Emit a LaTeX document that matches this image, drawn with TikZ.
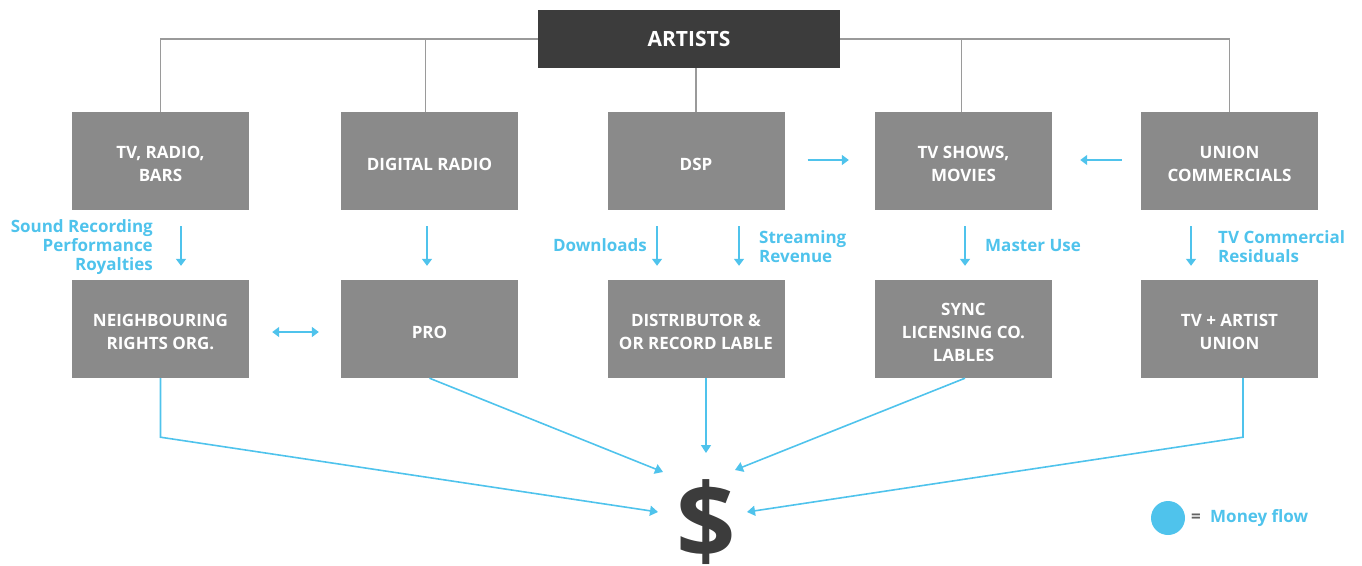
\documentclass[tikz,border=0pt]{standalone}
\usepackage{fontspec}
\setmainfont{Open Sans}[BoldFont={* Bold}]
\usetikzlibrary{arrows.meta}
\definecolor{boxgray}{HTML}{8A8A8A}
\definecolor{darkgray}{HTML}{3C3C3C}
\definecolor{flowblue}{HTML}{4FC3EC}
\definecolor{linegray}{HTML}{9A9A9A}
\tikzset{
  boxtext/.style={text=white, font=\bfseries\fontsize{17}{23}\selectfont, align=center, inner sep=0pt, yshift=-3pt},
  box/.style={rectangle, fill=boxgray, minimum width=177pt, minimum height=98pt, inner sep=0pt,
    label={[boxtext]center:{#1}}},
  topbox/.style={rectangle, fill=darkgray, minimum width=302pt, minimum height=58pt, inner sep=0pt,
    text=white, font=\bfseries\fontsize{21}{23}\selectfont},
  gline/.style={draw=linegray, line width=1.6pt},
  barrow/.style={draw=flowblue, line width=1.6pt, -{Triangle[width=10pt,length=7pt]}},
  bdarrow/.style={draw=flowblue, line width=1.6pt, {Triangle[width=10pt,length=7pt]}-{Triangle[width=10pt,length=7pt]}},
  flow/.style={draw=flowblue, line width=1.6pt, -{Triangle[width=10pt,length=8pt]}},
  blabel/.style={text=flowblue, font=\bfseries\fontsize{17}{19}\selectfont, inner sep=0pt},
}
\begin{document}
\begin{tikzpicture}[x=1pt, y=-1pt]
\useasboundingbox (0,0) rectangle (1362,565);
% top
\node[topbox] (artists) at (689,39) {ARTISTS};
% top row
\node[box={TV, RADIO,\\BARS}] (t1) at (160.5,161) {};
\node[box={DIGITAL RADIO}] (t2) at (429.5,161) {};
\node[box={DSP}] (t3) at (696,161) {};
\node[box={TV SHOWS,\\MOVIES}] (t4) at (963.5,161) {};
\node[box={UNION\\COMMERCIALS}] (t5) at (1229.5,161) {};
% bottom row
\node[box={NEIGHBOURING\\RIGHTS ORG.}] (b1) at (160.5,329) {};
\node[box={PRO}] (b2) at (429.5,329) {};
\node[box={DISTRIBUTOR \&\\OR RECORD LABLE}] (b3) at (696,329) {};
\node[box={SYNC\\LICENSING CO.\\LABLES}] (b4) at (963.5,329) {};
\node[box={TV + ARTIST\\UNION}] (b5) at (1229.5,329) {};
% tree lines
\draw[gline] (t1.north) |- (artists.west);
\draw[gline] ([xshift=-4pt]t2.north) |- (artists.west);
\draw[gline] (t3.north) -- (t3.north |- artists.south);
\draw[gline] ([xshift=-2pt]t4.north) |- (artists.east);
\draw[gline] (t5.north) |- (artists.east);
% vertical blue arrows
\draw[barrow, shorten <=16pt, shorten >=14pt] ([xshift=20.5pt]t1.south) -- ([xshift=20.5pt]b1.north);
\draw[barrow, shorten <=16pt, shorten >=14pt] ([xshift=-2.5pt]t2.south) -- ([xshift=-2.5pt]b2.north);
\draw[barrow, shorten <=16pt, shorten >=14pt] ([xshift=-39pt]t3.south) -- ([xshift=-39pt]b3.north);
\draw[barrow, shorten <=16pt, shorten >=14pt] ([xshift=43pt]t3.south) -- ([xshift=43pt]b3.north);
\draw[barrow, shorten <=16pt, shorten >=14pt] ([xshift=1.5pt]t4.south) -- ([xshift=1.5pt]b4.north);
\draw[barrow, shorten <=16pt, shorten >=14pt] ([xshift=-38.5pt]t5.south) -- ([xshift=-38.5pt]b5.north);
% horizontal blue arrows
\draw[barrow, shorten <=23pt, shorten >=26pt] ([yshift=1pt]t3.east) -- ([yshift=1pt]t4.west);
\draw[barrow, shorten <=19pt, shorten >=28pt] ([yshift=1pt]t5.west) -- ([yshift=1pt]t4.east);
\draw[bdarrow, shorten <=23pt, shorten >=22pt] ([yshift=-3pt]b1.east) -- ([yshift=-3pt]b2.west);
% labels
\node[blabel, anchor=east, align=right] (l1) at (153,247) {Sound Recording\\Performance\\Royalties};
\node[blabel, anchor=east] (l2) at (647,245) {Downloads};
\node[blabel, anchor=west, align=left] (l3) at (759,247) {Streaming\\Revenue};
\node[blabel, anchor=west] (l4) at (985,246) {Master Use};
\node[blabel, anchor=west, align=left] (l5) at (1218,247) {TV Commercial\\Residuals};
% dollar
\node[text=darkgray, font=\bfseries\fontsize{104}{104}\selectfont, anchor=base, inner sep=0pt] (dollar) at (706,558) {\$};
\coordinate (inL) at (658,512);
\coordinate (inR) at (747,512);
\coordinate (inTL) at (663,472);
\coordinate (inTR) at (735,470);
\coordinate (inT) at (706,453);
% money flows
\draw[flow] (b1.south) -- ++(0,59) -- (inL);
\draw[flow] (b2.south) -- (inTL);
\draw[flow] ([xshift=10pt]b3.south) -- (inT);
\draw[flow] ([xshift=1.5pt]b4.south) -- (inTR);
\draw[flow] ([xshift=13.5pt]b5.south) -- ++(0,59) -- (inR);
% legend
\node[circle, fill=flowblue, minimum size=34pt, inner sep=0pt] (legdot) at (1168,518) {};
\node[text=darkgray!80, font=\bfseries\fontsize{17}{19}\selectfont, anchor=west, inner sep=0pt] (legeq) at (1191,518) {=};
\node[blabel, anchor=west] (legtxt) at (1210,518) {Money flow};
\end{tikzpicture}
\end{document}
